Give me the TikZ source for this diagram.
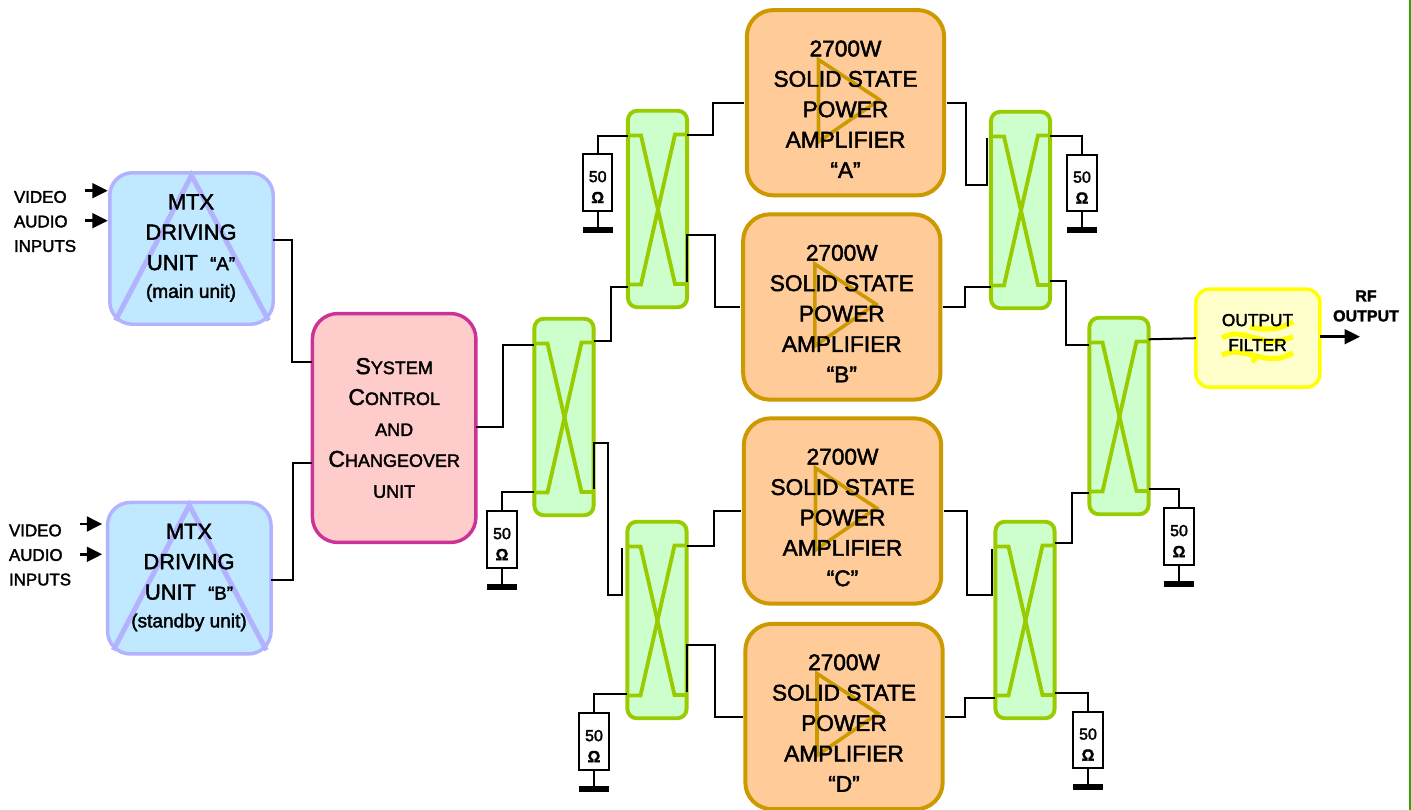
\documentclass[tikz,border=0pt]{standalone}
\usepackage{fontspec}
\setmainfont{Liberation Sans}[FakeBold=2]
\usetikzlibrary{arrows.meta, positioning, calc}

\definecolor{ampfill}{HTML}{FFCC99}
\definecolor{ampline}{HTML}{CC9900}
\definecolor{hybfill}{HTML}{CCFFCC}
\definecolor{hybline}{HTML}{99CC00}
\definecolor{mtxfill}{HTML}{C0E8FF}
\definecolor{mtxline}{HTML}{B2B2FF}
\definecolor{sysfill}{HTML}{FFCCCC}
\definecolor{sysline}{HTML}{CC3399}
\definecolor{filtfill}{HTML}{FFFFCC}
\definecolor{filtline}{HTML}{FFFF00}
\definecolor{edgeline}{HTML}{33A500}

\newcommand{\bigsc}{\fontsize{17.2}{23.2}\selectfont}
\newcommand{\lowsc}{\fontsize{13.5}{23.2}\selectfont}

\begin{document}
\begin{tikzpicture}[
    x=0.75pt, y=-0.75pt,
    every node/.style={inner sep=0pt, outer sep=0pt},
    ampbox/.style={
        rectangle,
        rounded corners=20pt,
        draw=ampline,
        fill=ampfill,
        line width=3pt,
        minimum width=148pt,
        minimum height=139pt
    },
    amptext/.style={
        align=center,
        font=\fontsize{17}{22.8}\selectfont
    },
    amptri/.style={
        draw=ampline,
        line width=2.7pt
    },
    mtxbox/.style={
        rectangle,
        rounded corners=17pt,
        draw=mtxline,
        fill=mtxfill,
        line width=2.6pt,
        minimum width=122.6pt,
        minimum height=113.6pt
    },
    mtxtext/.style={
        align=center,
        font=\fontsize{16.4}{22.8}\selectfont
    },
    mtxtri/.style={
        draw=mtxline,
        line width=3.75pt
    },
    sysbox/.style={
        rectangle,
        rounded corners=19pt,
        draw=sysline,
        fill=sysfill,
        line width=2.6pt,
        minimum width=122.6pt,
        minimum height=171.7pt,
        align=center,
        font=\fontsize{17.2}{23.2}\selectfont
    },
    hybbox/.style={
        rectangle,
        rounded corners=7pt,
        draw=hybline,
        fill=hybfill,
        line width=2.9pt,
        minimum width=44.4pt,
        minimum height=147.4pt
    },
    hybx/.style={
        draw=hybline,
        line width=2.9pt
    },
    filterbox/.style={
        rectangle,
        rounded corners=10pt,
        draw=filtline,
        fill=filtfill,
        line width=2.6pt,
        minimum width=93pt,
        minimum height=73.5pt
    },
    loadbox/.style={
        rectangle,
        draw=black,
        fill=white,
        line width=1.4pt,
        minimum width=22pt,
        minimum height=42.5pt
    },
    loadtext/.style={
        align=center,
        font=\fontsize{12}{15.7}\selectfont
    },
    gndbar/.style={
        rectangle,
        fill=black,
        minimum width=22.5pt,
        minimum height=4.5pt
    },
    wire/.style={
        line width=1.5pt,
        draw=black
    },
    ampwire/.style={
        wire,
        shorten >=2pt
    },
    sigarrow/.style={
        line width=2pt,
        -{Triangle[length=11.5pt, width=11pt]}
    },
    inlabel/.style={
        align=left,
        font=\fontsize{12.7}{18.4}\selectfont
    },
    squiggle/.style={
        draw=filtline,
        line width=3.8pt
    }
]
\useasboundingbox (0,0) rectangle (1411,810);

% Right edge line
\coordinate (edgetop) at (1410,0);
\coordinate (edgebot) at (1410,810);
\draw[edgeline, line width=1.3pt] (edgetop) -- (edgebot);

% Driving units
\node[mtxbox] (mtxA) at (191.5,248.5) {};
\node[mtxbox] (mtxB) at (189.3,578.2) {};
\foreach \name in {mtxA, mtxB} {
    \draw[mtxtri] ([shift={(-76,72)}]\name.center) -- ([shift={(0,-73)}]\name.center) -- ([shift={(77,72)}]\name.center);
}
\node[mtxtext] (mtxAtext) at (191,248) {MTX\\DRIVING\\UNIT\ \ {\fontsize{14}{15}\selectfont “A”}\\[-2pt]{\fontsize{14.3}{15}\selectfont (main unit)}};
\node[mtxtext] (mtxBtext) at (189,577.5) {MTX\\DRIVING\\UNIT\ \ {\fontsize{14}{15}\selectfont “B”}\\[-2pt]{\fontsize{14.3}{15}\selectfont (standby unit)}};

% Input labels
\node[inlabel, anchor=west] (inA) at (14,221.5) {VIDEO\\AUDIO\\INPUTS};
\node[inlabel, anchor=west] (inB) at (9,555) {VIDEO\\AUDIO\\INPUTS};

% Control unit
\node[sysbox] (sys) at (394.2,428) {\bigsc S\lowsc YSTEM\\\bigsc C\lowsc ONTROL\\\lowsc AND\\\bigsc C\lowsc HANGEOVER\\\lowsc UNIT};

% Amplifiers
\foreach \name/\cx/\cy in {A/845.5/102.7, B/841.8/307, C/842.5/511, D/844/716.5} {
    \node[ampbox] (amp\name) at (\cx,\cy) {};
    \draw[amptri] ([shift={(-27,-43)}]amp\name.center) -- ([shift={(34,-3)}]amp\name.center) -- ([shift={(-27,39)}]amp\name.center) -- cycle;
    \node[amptext] (amp\name text) at ([yshift=-4.9pt]amp\name.center) {2700W\\SOLID STATE\\POWER\\AMPLIFIER\\“\name”};
}

% Hybrid couplers
\foreach \name/\cx/\cy in {Main/564/417, Top/657.5/209, Bot/657/620, OutTop/1020.5/210, Out/1119/416, OutBot/1025/620} {
    \node[hybbox] (hyb\name) at (\cx,\cy) {};
    \coordinate (hyb\name tl) at ([shift={(-29.5,-73.5)}]hyb\name.center);
    \coordinate (hyb\name tr) at ([shift={(29.5,-74.5)}]hyb\name.center);
    \coordinate (hyb\name bl) at ([shift={(-29.5,75.5)}]hyb\name.center);
    \coordinate (hyb\name br) at ([shift={(29.5,75)}]hyb\name.center);
    \draw[hybx] (hyb\name tl) -- ++(13,0) -- ([shift={(-12,0)}]hyb\name br) -- (hyb\name br);
    \draw[hybx] (hyb\name tr) -- ++(-12,0) -- ([shift={(13,0)}]hyb\name bl) -- (hyb\name bl);
}

% 50 ohm loads
\foreach \name/\cx/\cy in {Main/502/539.5, Top/597.7/182.5, Bot/594/741.5, OutTop/1082/183, Out/1179/536.5, OutBot/1088/740} {
    \node[loadbox] (load\name) at (\cx,\cy) {};
    \node[loadtext] (load\name text) at ([yshift=-3.4pt]load\name.center) {50\\\textbf{Ω}};
    \node[gndbar] (gnd\name) at ([yshift=-35.6pt]load\name.center) {};
    \draw[wire] (load\name.south) -- (gnd\name.center);
}

% Output filter
\node[filterbox] (filter) at (1257.9,338.2) {};
\draw[squiggle] plot[smooth] coordinates {(1250,327) (1262,329) (1278,328) (1293,322)};
\draw[squiggle] plot[smooth] coordinates {(1222,338) (1233,334) (1248,336) (1268,341) (1282,340) (1293,337)};
\draw[squiggle] plot[smooth] coordinates {(1222,355) (1233,352) (1248,354) (1265,358) (1280,358) (1293,353)};
\draw[squiggle] (1252,362) -- (1257,357);
\node[font=\fontsize{13}{18.7}\selectfont, align=center] (filtertext) at (1257.5,332.5) {OUTPUT\\FILTER};
\node[font=\fontsize{12}{15}\selectfont\bfseries, align=center] (rflabel) at (1366,306) {RF\\OUTPUT};

% Input arrows
\coordinate (vidA) at (85,190.7);
\coordinate (audA) at (85,220.7);
\coordinate (vidB) at (80,524);
\coordinate (audB) at (80,554.3);
\draw[sigarrow, shorten >=1.5pt] (vidA) -- (vidA -| mtxA.west);
\draw[sigarrow, shorten >=1.5pt] (audA) -- (audA -| mtxA.west);
\draw[sigarrow, shorten >=4pt] (vidB) -- (vidB -| mtxB.west);
\draw[sigarrow, shorten >=4pt] (audB) -- (audB -| mtxB.west);

% Output arrow
\coordinate (rfout) at (1360,336.7);
\draw[sigarrow] (filter.east |- rfout) -- (rfout);

% Left side wiring
\draw[wire] (mtxA.east |- 0,240) -- ++(18.5,0) |- (sys.west |- 0,362);
\draw[wire] (mtxB.east |- 0,579.5) -- ++(21.5,0) |- (sys.west |- 0,463);
\draw[wire] (sys.east |- 0,427) -- ++(27,0) |- (hybMain.west |- 0,345);
\draw[wire] (hybMain.west |- 0,492) -| (loadMain.north);
\draw[wire] (hybMain.east |- 0,341) -- ++(17.5,0) |- (hybTop.west |- 0,286.5);
\draw[wire] (hybMain.east |- 0,489) -- (hybMain.east |- 0,443) -- ++(14.5,0) -- ++(0,152) -- ++(14,0) -- ++(0,-47);

% Splitters to amplifiers
\draw[wire] (hybTop.west |- 0,135.5) -| (loadTop.north);
\draw[ampwire] (hybTop.east |- 0,135) -- ++(25.5,0) |- (ampA.west);
\draw[ampwire] (hybTop.east |- 0,282) -- (hybTop.east |- 0,235) -- ++(27.5,0) |- (ampB.west);
\draw[wire] (hybBot.west |- 0,694) -| (loadBot.north);
\draw[ampwire] (hybBot.east |- 0,546) -- ++(27,0) |- (ampC.west);
\draw[ampwire] (hybBot.east |- 0,692) -- (hybBot.east |- 0,645) -- ++(28,0) |- (ampD.west);

% Amplifiers to combiners
\draw[wire, shorten <=2pt] (ampA.east) -- ++(22,0) -- ++(0,82.5) -- ++(21,0) -- ++(0,-47);
\draw[wire, shorten <=2pt] (ampB.east) -- ++(24.5,0) |- (hybOutTop.west |- 0,286.7);
\draw[wire, shorten <=2pt] (ampC.east) -- ++(25.7,0) -- ++(0,84.3) -- ++(25,0) -- ++(0,-46);
\draw[wire, shorten <=2pt] (ampD.east) -- ++(22.5,0) |- (hybOutBot.west |- 0,697.7);

% Combiners
\draw[wire] (hybOutTop.east |- 0,136) -| (loadOutTop.north);
\draw[wire] (hybOutTop.east |- 0,281) -- ++(16,0) |- (hybOut.west |- 0,345);
\draw[wire] (hybOutBot.east |- 0,543.3) -- ++(17.5,0) |- (hybOut.west |- 0,493);
\draw[wire] (hybOutBot.east |- 0,692.7) -| (loadOutBot.north);
\draw[wire] (hybOut.east |- 0,489.3) -| (loadOut.north);
\draw[wire] (hybOut.east |- 0,339.3) -- (filter.west);

\end{tikzpicture}
\end{document}
